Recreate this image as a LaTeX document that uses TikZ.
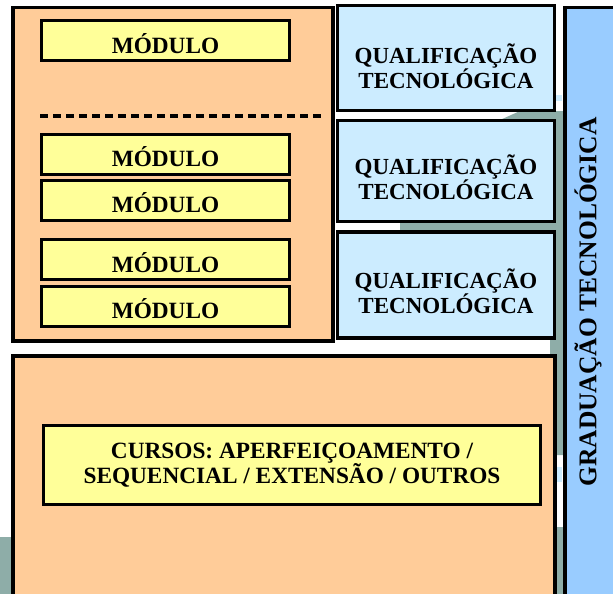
\documentclass[tikz,border=0pt]{standalone}
\usepackage{fontspec}
\setmainfont{Liberation Serif}
\newcommand{\lowered}[2]{\raisebox{#1}[\height][\depth]{#2}}
\newcommand{\twolines}[3]{\raisebox{#1}[\height][\depth]{\begin{tabular}{@{}c@{}}#2\\[-2pt]#3\end{tabular}}}
\begin{document}
\begin{tikzpicture}[x=1pt,y=-1pt,
  outerbox/.style={draw=black,line width=3.5pt,fill=peach},
  modbox/.style={draw=black,line width=3pt,fill=lyellow,font=\bfseries\fontsize{23.3}{24}\selectfont},
  qualbox/.style={draw=black,line width=3.5pt,fill=lblue,font=\bfseries\fontsize{23}{23.5}\selectfont,align=center}]
\definecolor{peach}{HTML}{FFCC99}
\definecolor{lyellow}{HTML}{FFFF99}
\definecolor{lblue}{HTML}{CCECFF}
\definecolor{mblue}{HTML}{99CCFF}
\definecolor{bggray}{HTML}{8EADA8}
\useasboundingbox (0,0) rectangle (613,594);
\begin{scope}
\clip (0,0) rectangle (613,594);
% background artefacts
\fill[bggray] (500,120) -- (520,111) -- (563,111) -- (563,455) -- (550,455) -- (550,120) -- cycle;
\fill[bggray] (400,220) rectangle (556,234);
\fill[bggray] (550,527) rectangle (563,600);
\fill[bggray] (0,537) rectangle (12,600);
\fill[lblue] (554,95) rectangle (562,101);
\fill[lblue] (554,467) rectangle (562,482);
% graduation bar
\node[draw=black,line width=3.5pt,fill=mblue,minimum width=60pt,minimum height=600pt,inner sep=0pt,anchor=north west] (grad) at (563,6) {};
\node[rotate=90,font=\bfseries\fontsize{25.5}{26}\selectfont] (gradtxt) at (588,302) {GRADUAÇÃO TECNOLÓGICA};
% left module box
\node[outerbox,minimum width=320pt,minimum height=333pt,inner sep=0pt,anchor=north west] (left) at (11,6) {};
\node[modbox,minimum width=248pt,minimum height=40pt,inner sep=0pt] (m1) at (165.5,41) {\lowered{-3pt}{MÓDULO}};
\node[modbox,minimum width=248pt,minimum height=40pt,inner sep=0pt] (m2) at (165.5,154) {\lowered{-2.5pt}{MÓDULO}};
\node[modbox,minimum width=248pt,minimum height=40pt,inner sep=0pt] (m3) at (165.5,200) {\lowered{-2.5pt}{MÓDULO}};
\node[modbox,minimum width=248pt,minimum height=40pt,inner sep=0pt] (m4) at (165.5,259) {\lowered{-3.5pt}{MÓDULO}};
\node[modbox,minimum width=248pt,minimum height=40pt,inner sep=0pt] (m5) at (165.5,306) {\lowered{-3pt}{MÓDULO}};
\coordinate (dl) at (40,116);
\coordinate (dr) at (323,116);
\draw[line width=3.5pt,dash pattern=on 8pt off 5pt] (dl) -- (dr);
% qualification boxes
\node[qualbox,minimum width=217pt,minimum height=105pt,inner sep=0pt] (q1) at (446,58) {\twolines{-12pt}{QUALIFICAÇÃO}{TECNOLÓGICA}};
\node[qualbox,minimum width=217pt,minimum height=101pt,inner sep=0pt] (q2) at (446,171) {\twolines{-10pt}{QUALIFICAÇÃO}{TECNOLÓGICA}};
\node[qualbox,minimum width=217pt,minimum height=106pt,inner sep=0pt] (q3) at (446,285) {\twolines{-10pt}{QUALIFICAÇÃO}{TECNOLÓGICA}};
% bottom box
\node[outerbox,minimum width=542pt,minimum height=260pt,inner sep=0pt,anchor=north west] (bottom) at (11,354) {};
\node[modbox,minimum width=497pt,minimum height=79pt,inner sep=0pt,align=center,font=\bfseries\fontsize{23.3}{25}\selectfont] (cursos) at (292,465) {CURSOS: APERFEIÇOAMENTO /\\SEQUENCIAL / EXTENSÃO / OUTROS};
\end{scope}
\end{tikzpicture}
\end{document}
